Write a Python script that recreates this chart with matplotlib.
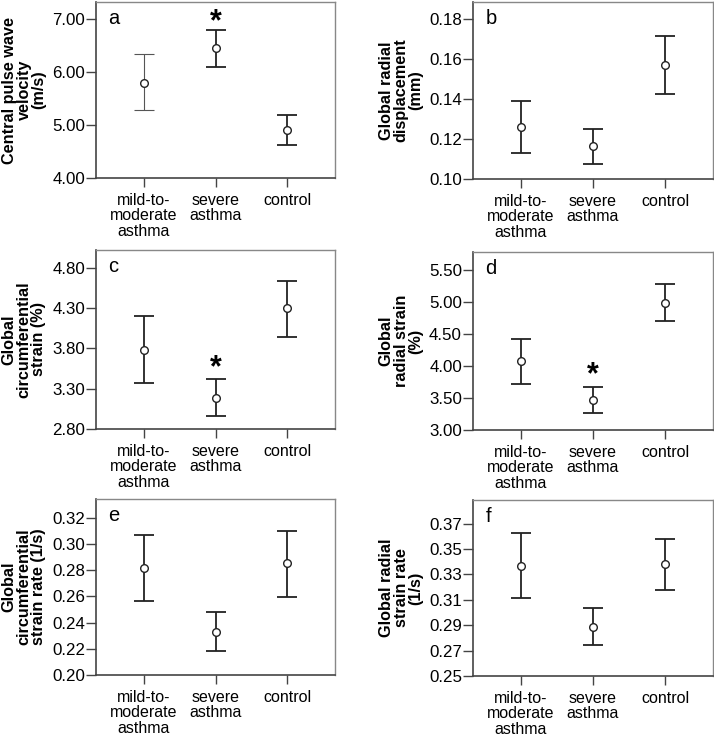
import numpy as np
import matplotlib.pyplot as plt

plt.rcParams['font.family'] = ['Liberation Sans', 'DejaVu Sans']

groups = ['mild-to-\nmoderate\nasthma', 'severe\nasthma', 'control']

# mean, lower and upper end of the error bars for each panel
cpwv_mean = [5.80, 6.45, 4.91]
cpwv_low = [5.28, 6.09, 4.62]
cpwv_high = [6.33, 6.79, 5.19]

grd_mean = [0.1259, 0.1163, 0.1569]
grd_low = [0.1128, 0.1075, 0.1426]
grd_high = [0.1391, 0.1252, 0.1714]

gcs_mean = [3.78, 3.19, 4.30]
gcs_low = [3.37, 2.96, 3.94]
gcs_high = [4.20, 3.42, 4.64]

grs_mean = [4.07, 3.47, 4.98]
grs_low = [3.72, 3.27, 4.70]
grs_high = [4.42, 3.67, 5.27]

gcsr_mean = [0.2818, 0.2331, 0.2851]
gcsr_low = [0.2564, 0.2182, 0.2595]
gcsr_high = [0.3072, 0.2481, 0.3099]

grsr_mean = [0.3368, 0.2890, 0.3379]
grsr_low = [0.3118, 0.2747, 0.3181]
grsr_high = [0.3624, 0.3034, 0.3579]

panels = [
    ('a', 'Central pulse wave\nvelocity\n(m/s)', cpwv_mean, cpwv_low, cpwv_high,
     [4.0, 5.0, 6.0, 7.0], (4.0, 7.32), 1, 6.93),
    ('b', 'Global radial\ndisplacement\n(mm)', grd_mean, grd_low, grd_high,
     [0.10, 0.12, 0.14, 0.16, 0.18], (0.10, 0.1885), None, None),
    ('c', 'Global\ncircumferential\nstrain (%)', gcs_mean, gcs_low, gcs_high,
     [2.80, 3.30, 3.80, 4.30, 4.80], (2.80, 5.02), 1, 3.55),
    ('d', 'Global\nradial strain\n(%)', grs_mean, grs_low, grs_high,
     [3.00, 3.50, 4.00, 4.50, 5.00, 5.50], (3.00, 5.775), 1, 3.86),
    ('e', 'Global\ncircumferential\nstrain rate (1/s)', gcsr_mean, gcsr_low, gcsr_high,
     [0.20, 0.22, 0.24, 0.26, 0.28, 0.30, 0.32], (0.20, 0.3343), None, None),
    ('f', 'Global radial\nstrain rate\n(1/s)', grsr_mean, grsr_low, grsr_high,
     [0.25, 0.27, 0.29, 0.31, 0.33, 0.35, 0.37], (0.25, 0.3887), None, None),
]

# axes boxes in pixels: left, top, right, bottom
boxes = [(96, 2, 335, 178), (473, 2, 713, 179),
         (96, 250, 335, 429), (473, 252, 713, 430),
         (96, 499, 335, 675), (473, 500, 713, 676)]

W, H = 714, 736
fig = plt.figure(figsize=(W / 100, H / 100), dpi=100)

x = np.arange(3)
for (letter, ylab, m, lo, hi, ticks, ylim, star_i, star_y), (l, t, r, b) in zip(panels, boxes):
    ax = fig.add_axes([l / W, 1 - b / H, (r - l) / W, (b - t) / H])
    m = np.array(m); lo = np.array(lo); hi = np.array(hi)
    for i in range(3):
        thin = (letter == 'a' and i == 0)  # this one is drawn lighter in the original
        lw = 0.8 if thin else 1.3
        col = '#555555' if thin else '#222222'
        ax.errorbar(x[i], m[i], yerr=[[m[i] - lo[i]], [hi[i] - m[i]]], fmt='none',
                    ecolor=col, elinewidth=lw, capsize=7.2, capthick=lw)
    ax.plot(x, m, 'o', mfc='white', mec='#222222', ms=5.5, mew=1.0, ls='none')
    ax.set_xlim(-0.66, 2.66)
    ax.set_ylim(*ylim)
    ax.set_yticks(ticks)
    ax.set_yticklabels(['%.2f' % v for v in ticks], fontsize=12.2)
    ax.set_xticks(x)
    ax.set_xticklabels(groups, fontsize=11.5, linespacing=1.05)
    ax.set_ylabel(ylab, fontsize=11.7, fontweight='bold', linespacing=0.98, va='center')
    ax.yaxis.set_label_coords(-72 / (r - l), 0.5)
    ax.tick_params(axis='y', direction='out', length=7, width=1, color='#444444', pad=1)
    ax.tick_params(axis='x', direction='out', length=6.5, width=1, color='#444444', pad=4)
    for side in ['left', 'bottom']:
        ax.spines[side].set_color('#444444')
        ax.spines[side].set_linewidth(1.2)
    for side in ['top', 'right']:
        ax.spines[side].set_color('#888888')
        ax.spines[side].set_linewidth(1.0)
    ax.text(12.5 / (r - l), 1 - 22 / (b - t), letter, transform=ax.transAxes,
            fontsize=14.5, va='baseline', ha='left')
    if star_i is not None:
        ax.text(x[star_i], star_y, '*', fontsize=22, fontweight='bold', ha='center', va='center')

fig.savefig('out.png', dpi=100)
